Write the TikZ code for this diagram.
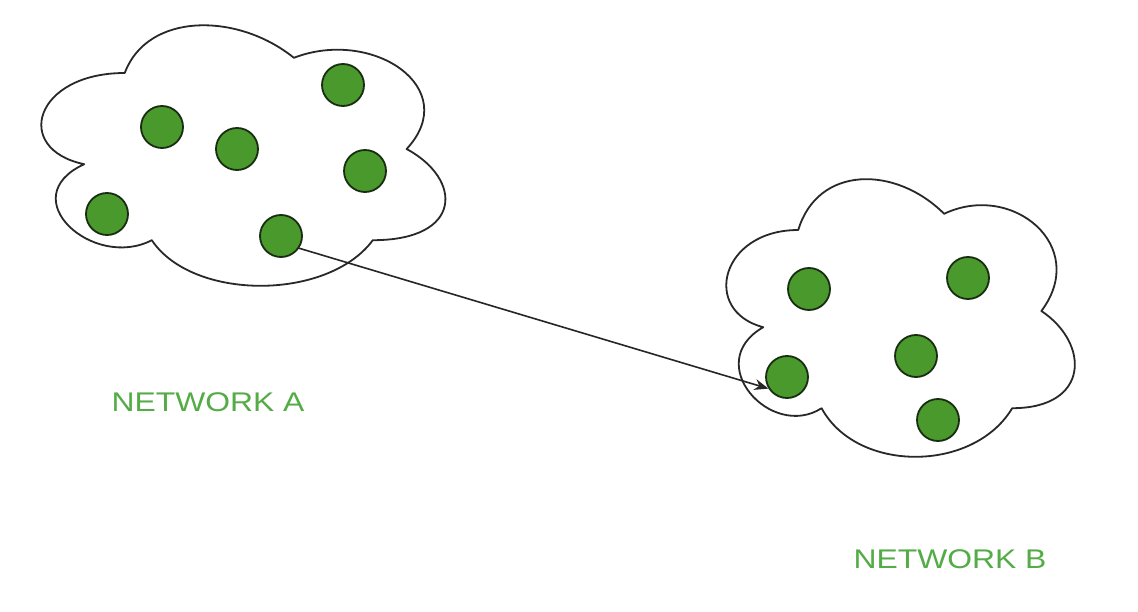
\documentclass[tikz,border=0pt]{standalone}
\usepackage{fontspec}
\setmainfont{Liberation Sans}
\usetikzlibrary{arrows.meta}
\definecolor{nodegreen}{RGB}{74,153,44}
\definecolor{nodeline}{RGB}{25,45,18}
\definecolor{labelgreen}{RGB}{84,172,70}
\definecolor{cloudgray}{RGB}{40,40,40}
\newcommand\mycloud[4]{%
  \draw[cloudline]
    ({#1+0.25*#3},{#2+0.25*#4})
    .. controls ({#1+0.05*#3},{#2+0.25*#4}) and ({#1},{#2+0.5*#4}) .. ({#1+0.16*#3},{#2+0.55*#4})
    .. controls ({#1},{#2+0.66*#4}) and ({#1+0.18*#3},{#2+0.9*#4}) .. ({#1+0.31*#3},{#2+0.8*#4})
    .. controls ({#1+0.4*#3},{#2+#4}) and ({#1+0.7*#3},{#2+#4}) .. ({#1+0.8*#3},{#2+0.8*#4})
    .. controls ({#1+#3},{#2+0.8*#4}) and ({#1+#3},{#2+0.6*#4}) .. ({#1+0.875*#3},{#2+0.5*#4})
    .. controls ({#1+#3},{#2+0.3*#4}) and ({#1+0.8*#3},{#2+0.1*#4}) .. ({#1+0.625*#3},{#2+0.2*#4})
    .. controls ({#1+0.5*#3},{#2+0.05*#4}) and ({#1+0.3*#3},{#2+0.05*#4}) .. ({#1+0.25*#3},{#2+0.25*#4})
    -- cycle;}
\tikzset{
  cloudline/.style={draw=cloudgray, line width=1.8pt, line join=round},
  host/.style={circle, minimum size=42pt, inner sep=0pt, fill=nodegreen, draw=nodeline, line width=1.8pt},
  netlabel/.style={text=labelgreen, font=\fontsize{27}{30}\selectfont, inner sep=0pt},
  link/.style={draw=black!85, line width=1.6pt, -{Stealth[length=14pt,width=11pt]}}
}
\begin{document}
\begin{tikzpicture}[x=1pt,y=-1pt]
\useasboundingbox[fill=white] (0,0) rectangle (1138,612);
\mycloud{12}{-3}{451}{304}
\mycloud{701}{149}{389}{324}
% network A hosts
\node[host] (a1) at (343,85) {};
\node[host] (a2) at (162,127) {};
\node[host] (a3) at (237,149) {};
\node[host] (a4) at (365,171) {};
\node[host] (a5) at (107,214) {};
\node[host] (a6) at (281,236) {};
% network B hosts
\node[host] (b1) at (809,289) {};
\node[host] (b2) at (968,278) {};
\node[host] (b3) at (916,356) {};
\node[host] (b4) at (787,377) {};
\node[host] (b5) at (938,420) {};
\draw[link] (a6.-34) -- (b4.212);
\node[netlabel] (labA) at (208,402) {\scalebox{1.18}[1]{NETWORK A}};
\node[netlabel] (labB) at (950,559) {\scalebox{1.18}[1]{NETWORK B}};
\end{tikzpicture}
\end{document}
